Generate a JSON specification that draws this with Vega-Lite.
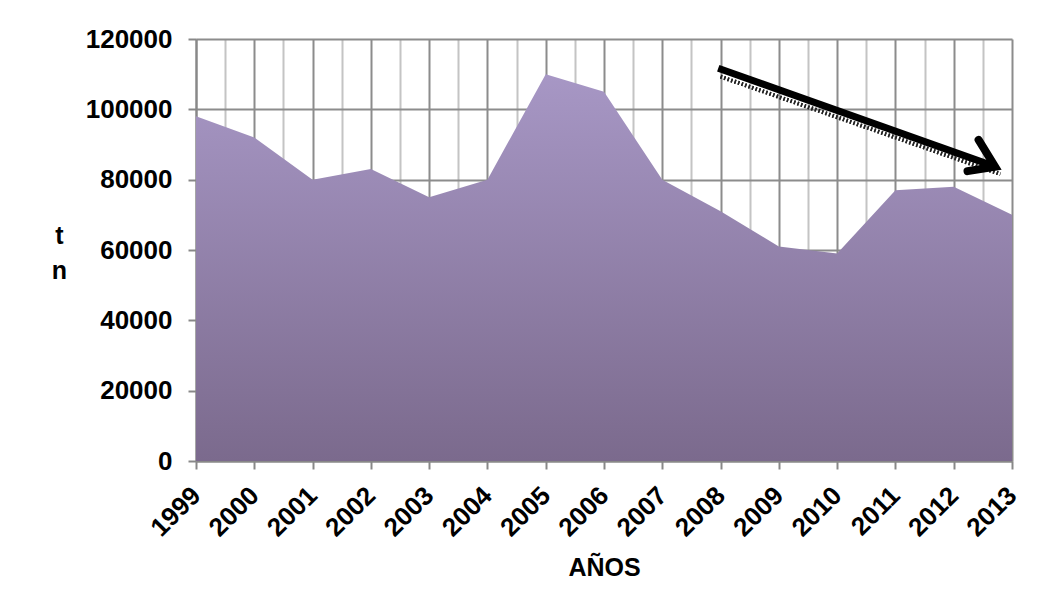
{
  "$schema": "https://vega.github.io/schema/vega-lite/v6.json",
  "width": 816,
  "height": 422,
  "autosize": {"type": "none"},
  "padding": {"left": 196, "top": 39, "right": 39, "bottom": 147},
  "background": "white",
  "config": {
    "view": {"stroke": null},
    "font": "Liberation Sans"
  },
  "datasets": {
    "prod": [
      {"year": 1999, "t": 98000},
      {"year": 2000, "t": 92000},
      {"year": 2001, "t": 80000},
      {"year": 2002, "t": 83000},
      {"year": 2003, "t": 75000},
      {"year": 2004, "t": 80000},
      {"year": 2005, "t": 110000},
      {"year": 2006, "t": 105000},
      {"year": 2007, "t": 80000},
      {"year": 2008, "t": 71000},
      {"year": 2009, "t": 61000},
      {"year": 2010, "t": 59000},
      {"year": 2011, "t": 77000},
      {"year": 2012, "t": 78000},
      {"year": 2013, "t": 70000}
    ],
    "shadow": [
      {"x": 2008.0, "y": 109300, "x2": 2012.8, "y2": 81600}
    ],
    "arrow": [
      {"x": 2007.96, "y": 111700, "x2": 2012.71, "y2": 83700}
    ]
  },
  "resolve": {"axis": {"x": "independent"}},
  "layer": [
    {
      "data": {"name": "shadow"},
      "mark": {"type": "rule", "color": "#222222", "strokeWidth": 4, "strokeDash": [1.5, 2.2]},
      "encoding": {
        "x": {
          "field": "x",
          "type": "quantitative",
          "scale": {"domain": [1999, 2013], "nice": false, "zero": false},
          "axis": {
            "orient": "bottom",
            "values": [1999.5, 2000.5, 2001.5, 2002.5, 2003.5, 2004.5, 2005.5, 2006.5, 2007.5, 2008.5, 2009.5, 2010.5, 2011.5, 2012.5],
            "labels": false,
            "ticks": false,
            "domain": false,
            "title": null,
            "grid": true,
            "gridWidth": 2,
            "gridColor": "#c4c4c4"
          }
        },
        "y": {"field": "y", "type": "quantitative"},
        "x2": {"field": "x2"},
        "y2": {"field": "y2"}
      }
    },
    {
      "data": {"name": "prod"},
      "mark": {
        "type": "area",
        "interpolate": "linear",
        "color": {
          "gradient": "linear",
          "x1": 0, "y1": 0, "x2": 0, "y2": 1,
          "stops": [
            {"offset": 0, "color": "#a797c5"},
            {"offset": 1, "color": "#7b6a8d"}
          ]
        }
      },
      "encoding": {
        "x": {
          "field": "year",
          "type": "quantitative",
          "scale": {"domain": [1999, 2013], "nice": false, "zero": false},
          "axis": {
            "orient": "bottom",
            "values": [1999, 2000, 2001, 2002, 2003, 2004, 2005, 2006, 2007, 2008, 2009, 2010, 2011, 2012, 2013],
            "format": "d",
            "labelAngle": -45,
            "labelAlign": "right",
            "labelBaseline": "middle",
            "labelFontSize": 26,
            "labelFontWeight": "bold",
            "labelColor": "black",
            "labelPadding": 22,
            "labelOverlap": false,
            "labelBound": false,
            "labelFlush": false,
            "tickSize": 8,
            "tickWidth": 2,
            "tickColor": "#888888",
            "domainColor": "#888888",
            "domainWidth": 2,
            "grid": true,
            "gridWidth": 2,
            "gridColor": "#8c8c8c",
            "title": "AÑOS",
            "titleFontSize": 25,
            "titleFontWeight": "bold",
            "titleColor": "black",
            "titleBaseline": "alphabetic",
            "titleY": 114
          }
        },
        "y": {
          "field": "t",
          "type": "quantitative",
          "scale": {"domain": [0, 120000], "nice": false},
          "axis": {
            "values": [0, 20000, 40000, 60000, 80000, 100000, 120000],
            "format": "d",
            "labelFontSize": 26,
            "labelFontWeight": "bold",
            "labelColor": "black",
            "labelPadding": 16,
            "tickSize": 8,
            "tickWidth": 2,
            "tickColor": "#888888",
            "domainColor": "#888888",
            "domainWidth": 2,
            "grid": true,
            "gridWidth": 2,
            "gridColor": "#8c8c8c",
            "title": ["t", "n"],
            "titleAngle": 0,
            "titleAlign": "center",
            "titleBaseline": "alphabetic",
            "titleFontSize": 25,
            "titleFontWeight": "bold",
            "titleColor": "black",
            "titleLineHeight": 35,
            "titleX": -137,
            "titleY": 204
          }
        }
      }
    },
    {
      "data": {"name": "shadow"},
      "mark": {"type": "rule", "color": "#222222", "strokeWidth": 4, "strokeDash": [1.5, 2.2]},
      "encoding": {
        "x": {"field": "x", "type": "quantitative", "axis": null},
        "y": {"field": "y", "type": "quantitative"},
        "x2": {"field": "x2"},
        "y2": {"field": "y2"}
      }
    },
    {
      "data": {"name": "arrow"},
      "mark": {"type": "rule", "color": "black", "strokeWidth": 7},
      "encoding": {
        "x": {"field": "x", "type": "quantitative", "axis": null},
        "y": {"field": "y", "type": "quantitative"},
        "x2": {"field": "x2"},
        "y2": {"field": "y2"}
      }
    },
    {
      "data": {"name": "arrow"},
      "mark": {
        "type": "point",
        "shape": "M-1,-0.8L0,0L-1,0.55",
        "filled": false,
        "stroke": "black",
        "strokeWidth": 8,
        "strokeCap": "round",
        "strokeJoin": "miter",
        "size": 2400,
        "angle": 19.6,
        "opacity": 1
      },
      "encoding": {
        "x": {"field": "x2", "type": "quantitative", "axis": null},
        "y": {"field": "y2", "type": "quantitative"}
      }
    }
  ]
}
